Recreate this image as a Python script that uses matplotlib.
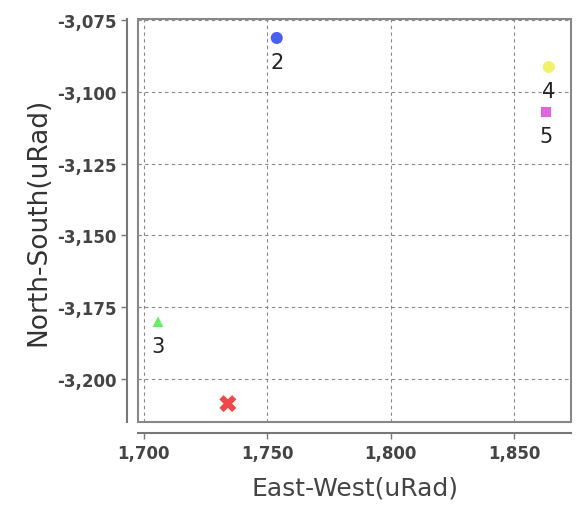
import numpy as np
import matplotlib.pyplot as plt
from matplotlib.ticker import FuncFormatter, MultipleLocator
from matplotlib.patches import Rectangle

# point data (East-West, North-South) in uRad
labels = ['', '2', '3', '4', '5']
ew = [1734.0, 1753.8, 1705.7, 1864.0, 1862.8]
ns = [-3208.5, -3081.3, -3180.0, -3091.4, -3107.0]
colors = ['#f04848', '#4a5ef0', '#66ee66', '#f2f26a', '#dd66dd']
markers = ['X', 'o', '^', 'o', 's']
sizes = [150, 75, 60, 75, 55]

W, H = 581, 510
fig = plt.figure(figsize=(W / 100, H / 100), dpi=100)
ax = fig.add_axes([138 / W, (H - 423) / H, (571 - 138) / W, (423 - 20) / H])

ax.set_xlim(1697.6, 1873.0)
ax.set_ylim(-3214.9, -3074.7)

ax.xaxis.set_major_locator(MultipleLocator(50))
ax.yaxis.set_major_locator(MultipleLocator(25))
fmt = FuncFormatter(lambda v, p: f'{v:,.0f}')
ax.xaxis.set_major_formatter(fmt)
ax.yaxis.set_major_formatter(fmt)

ax.grid(True, linestyle=(0, (3, 3)), color='#888888', linewidth=0.8)
ax.set_axisbelow(True)

# plot box
for s in ['top', 'right']:
    ax.spines[s].set_visible(False)
ax.add_patch(Rectangle((0, 0), 1, 1, transform=ax.transAxes, fill=False,
                       edgecolor='#888888', linewidth=1.5, zorder=5, clip_on=False))
# offset axis lines
for s in ['left', 'bottom']:
    ax.spines[s].set_position(('outward', 8))
    ax.spines[s].set_color('#777777')
    ax.spines[s].set_linewidth(1.5)

ax.tick_params(direction='out', length=4, width=1, colors='#777777',
               labelcolor='#444444')
for lab in ax.get_xticklabels() + ax.get_yticklabels():
    lab.set_fontfamily('DejaVu Sans Condensed')
    lab.set_fontweight('bold')
    lab.set_fontsize(12)

for x, y, c, m, s, t in zip(ew, ns, colors, markers, sizes, labels):
    ax.scatter(x, y, color=c, marker=m, s=s, zorder=6, edgecolors='none')
    if t:
        ax.annotate(t, (x, y), xytext=(0, -10), textcoords='offset points',
                    ha='center', va='top', fontsize=15, color='#222222',
                    zorder=7)

ax.set_xlabel('East-West(uRad)', fontsize=18, color='#444444', labelpad=10)
ax.set_ylabel('North-South(uRad)', fontsize=19, color='#333333', labelpad=4)

fig.savefig('out.png', dpi=100)
